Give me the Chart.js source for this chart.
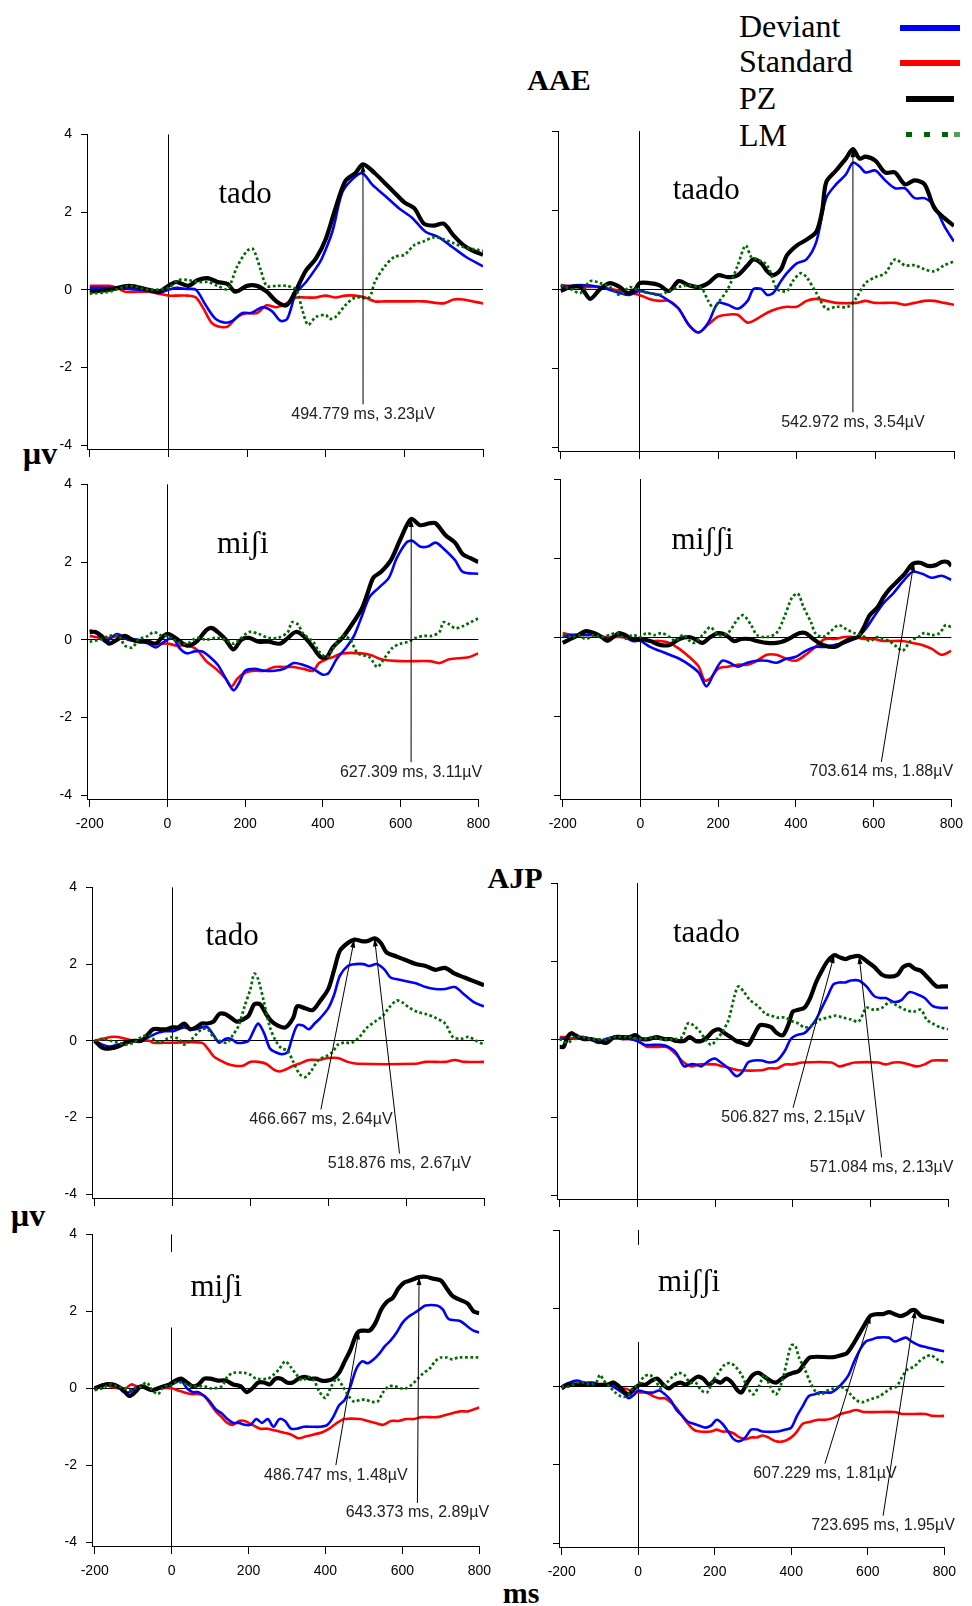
<!DOCTYPE html>
<html>
<head>
<meta charset="utf-8">
<script src="https://cdn.jsdelivr.net/npm/chart.js@4.4.0/dist/chart.umd.min.js"></script>
<style>
html, body { margin:0; padding:0; background:#fff; }
body { width:972px; height:1606px; position:relative; overflow:hidden; }
canvas { position:absolute; }
.txt { position:absolute; font-family:"Liberation Serif","Times New Roman",serif; color:#000; white-space:nowrap; line-height:1; }
.bold { font-weight:bold; }
.key { position:absolute; }
</style>
</head>
<body>
<div class="txt bold" style="left:559px; top:65px; font-size:30px; transform:translateX(-50%);">AAE</div>
<div class="txt bold" style="left:515px; top:863px; font-size:30px; transform:translateX(-50%);">AJP</div>
<div class="txt bold" style="left:40px; top:437px; font-size:32px; transform:translateX(-50%);">&micro;v</div>
<div class="txt bold" style="left:28px; top:1199px; font-size:32px; transform:translateX(-50%);">&micro;v</div>
<div class="txt bold" style="left:521px; top:1578px; font-size:30px; transform:translateX(-50%);">ms</div>

<div class="txt" style="left:739px; top:10px; font-size:32px;">Deviant</div>
<div class="txt" style="left:739px; top:45px; font-size:32px;">Standard</div>
<div class="txt" style="left:739px; top:82px; font-size:32px;">PZ</div>
<div class="txt" style="left:739px; top:119px; font-size:32px;">LM</div>
<div class="key" style="left:900px; top:25px; width:60px; height:6px; background:#0000ff;"></div>
<div class="key" style="left:900px; top:60px; width:60px; height:6px; background:#ff0000;"></div>
<div class="key" style="left:906px; top:96px; width:48px; height:6px; background:#000;"></div>
<div class="key" style="left:906px; top:132px; width:6px; height:5px; background:#006400;"></div>
<div class="key" style="left:924px; top:132px; width:6px; height:5px; background:#006400;"></div>
<div class="key" style="left:942px; top:132px; width:6px; height:5px; background:#006400;"></div>
<div class="key" style="left:954px; top:132px; width:6px; height:5px; background:#5a9a5a;"></div>

<script>
// ---- AAE / tado ----
const aaeTadoDev = [[-200,0.05],[-150,0.05],[-100,0.02],[-50,-0.03],[-25,-0.08],[0,0],[20,0.05],[45,0.02],[70,0],[95,-0.4],[120,-0.75],[145,-0.85],[163,-0.8],[188,-0.6],[210,-0.6],[239,-0.45],[263,-0.55],[285,-0.8],[302,-0.75],[324,-0.1],[350,0.2],[375,0.55],[390,0.8],[417,1.5],[442,2.5],[468,2.85],[493,3.0],[519,2.7],[553,2.4],[586,2.1],[620,1.85],[653,1.5],[688,1.35],[722,1.1],[756,0.85],[800,0.6]];
const aaeTadoStd = [[-200,0.1],[-150,0.1],[-130,0.05],[-110,-0.05],[-75,-0.05],[-50,-0.05],[-25,-0.1],[0,-0.15],[25,-0.15],[50,-0.15],[70,-0.2],[90,-0.5],[110,-0.85],[130,-0.95],[150,-0.95],[175,-0.7],[200,-0.6],[225,-0.6],[250,-0.4],[275,-0.45],[300,-0.35],[325,-0.2],[350,-0.2],[375,-0.2],[400,-0.15],[425,-0.2],[450,-0.15],[475,-0.15],[500,-0.2],[525,-0.3],[550,-0.3],[600,-0.3],[650,-0.3],[700,-0.35],[725,-0.25],[750,-0.25],[775,-0.3],[800,-0.35]];
const aaeTadoPz = [[-200,-0.05],[-150,0],[-100,0.1],[-50,0],[-25,-0.05],[0,0.1],[20,0.2],[50,0.1],[75,0.25],[100,0.3],[125,0.2],[150,0.15],[170,-0.05],[200,0.1],[225,0.1],[250,-0.05],[275,-0.3],[300,-0.4],[320,-0.1],[350,0.5],[375,0.8],[400,1.3],[425,2.1],[450,2.8],[475,3.0],[495,3.23],[525,3.0],[550,2.75],[575,2.5],[600,2.25],[625,2.1],[650,1.7],[675,1.65],[700,1.7],[725,1.4],[750,1.15],[775,1.0],[800,0.9]];
const aaeTadoLm = [[-200,-0.1],[-150,-0.05],[-100,0.1],[-50,0],[0,0.05],[25,0.25],[50,0.25],[75,0.2],[100,0.2],[125,0.1],[150,0.02],[175,0.6],[200,1.0],[215,1.05],[235,0.5],[250,0.1],[275,0.1],[300,0.1],[325,0],[340,-0.5],[355,-0.9],[375,-0.7],[400,-0.65],[410,-0.75],[425,-0.7],[450,-0.4],[475,-0.2],[510,-0.2],[525,0.2],[550,0.6],[575,0.85],[600,0.9],[625,1.15],[650,1.25],[675,1.35],[700,1.3],[725,1.2],[750,1.1],[775,1.05],[800,1.0]];
const aaeTadoPeaks = [[494.779,3.23,495,-2.95]];

// ---- AAE / taado ----
const aaeTaadoDev = [[-200,0.05],[-150,0.1],[-100,0.05],[-50,-0.1],[-25,-0.15],[0,-0.05],[25,-0.1],[50,-0.15],[75,-0.3],[100,-0.5],[125,-0.9],[150,-1.1],[175,-0.85],[200,-0.35],[225,-0.4],[250,-0.5],[275,-0.3],[290,0],[310,0],[325,-0.15],[340,-0.1],[360,0.2],[375,0.4],[400,0.65],[425,0.75],[450,1.2],[475,2.3],[500,2.65],[525,2.9],[543,3.2],[560,3.1],[575,2.95],[600,3.0],[625,2.75],[650,2.55],[675,2.55],[700,2.3],[725,2.3],[750,2.1],[775,1.6],[800,1.2]];
const aaeTaadoStd = [[-200,0.1],[-150,0.05],[-100,0.05],[-50,-0.05],[-25,-0.1],[0,-0.15],[25,-0.25],[50,-0.3],[75,-0.3],[100,-0.5],[125,-0.9],[150,-1.1],[175,-0.9],[200,-0.7],[225,-0.65],[250,-0.65],[275,-0.85],[300,-0.75],[325,-0.6],[350,-0.5],[375,-0.45],[400,-0.45],[425,-0.3],[450,-0.25],[475,-0.3],[500,-0.35],[550,-0.35],[575,-0.3],[600,-0.35],[650,-0.35],[675,-0.4],[700,-0.35],[725,-0.3],[750,-0.3],[775,-0.35],[800,-0.4]];
const aaeTaadoPz = [[-200,-0.05],[-175,0.05],[-150,0.05],[-125,-0.25],[-100,0],[-75,0.15],[-50,0.05],[-30,-0.1],[-10,0],[0,0.15],[25,0.15],[50,0.1],[75,-0.05],[100,0.2],[125,0.1],[150,0.05],[175,0.15],[200,0.35],[225,0.3],[250,0.35],[275,0.6],[290,0.75],[310,0.65],[325,0.45],[340,0.35],[360,0.5],[375,0.85],[400,1.1],[425,1.25],[450,1.45],[465,2.0],[475,2.7],[500,3.0],[525,3.3],[543,3.54],[560,3.3],[575,3.35],[600,3.25],[625,2.95],[650,2.95],[675,2.65],[700,2.75],[725,2.65],[750,2.05],[775,1.8],[800,1.6]];
const aaeTaadoLm = [[-200,0.1],[-175,0],[-150,-0.1],[-125,0.2],[-100,0.15],[-75,0.05],[-50,-0.15],[-25,0.05],[0,-0.05],[25,-0.1],[50,-0.15],[75,-0.05],[100,0.05],[125,0.1],[150,0.05],[160,0],[175,-0.3],[190,-0.5],[200,-0.35],[225,0],[250,0.6],[270,1.1],[285,0.8],[300,0.75],[325,0.6],[350,0],[375,-0.05],[390,0.2],[410,0.4],[425,0.3],[450,-0.1],[475,-0.5],[500,-0.45],[530,-0.45],[550,-0.25],[575,0.15],[600,0.3],[625,0.4],[650,0.75],[675,0.6],[700,0.6],[725,0.5],[750,0.45],[775,0.6],[800,0.7]];
const aaeTaadoPeaks = [[542.972,3.54,543,-3.12]];

// ---- AAE / miʃi ----
const aaeMishiDev = [[-200,0.25],[-180,0.15],[-160,-0.05],[-130,0.15],[-100,0],[-75,0],[-50,-0.1],[-30,-0.2],[-15,-0.1],[0,0],[15,0.05],[30,-0.2],[50,-0.35],[70,-0.3],[90,-0.3],[110,-0.45],[130,-0.65],[150,-1.0],[170,-1.3],[185,-1.1],[200,-0.8],[225,-0.75],[250,-0.8],[275,-0.8],[300,-0.75],[325,-0.6],[350,-0.65],[375,-0.75],[400,-0.9],[415,-0.85],[435,-0.5],[460,-0.2],[480,0.1],[500,0.6],[520,1.1],[545,1.35],[570,1.6],[590,2.1],[615,2.5],[630,2.55],[650,2.4],[670,2.4],[690,2.5],[710,2.35],[740,2.05],[760,1.75],[800,1.7]];
const aaeMishiStd = [[-200,0.1],[-175,0.05],[-150,0.05],[-125,0.1],[-100,0],[-75,-0.05],[-50,-0.05],[-25,-0.1],[0,-0.1],[25,-0.15],[50,-0.15],[75,-0.25],[100,-0.55],[125,-0.75],[150,-1.0],[165,-1.2],[180,-1.0],[200,-0.85],[225,-0.8],[250,-0.8],[275,-0.7],[300,-0.7],[325,-0.7],[350,-0.75],[375,-0.8],[390,-0.6],[410,-0.5],[425,-0.45],[450,-0.35],[500,-0.35],[525,-0.4],[550,-0.5],[600,-0.55],[675,-0.55],[700,-0.6],[725,-0.5],[775,-0.45],[800,-0.35]];
const aaeMishiPz = [[-200,0.2],[-185,0.2],[-170,0.1],[-150,-0.1],[-130,0],[-110,0.1],[-90,0],[-70,-0.05],[-50,-0.05],[-30,-0.1],[-15,0.05],[0,0.15],[20,0.05],[50,-0.15],[75,-0.05],[100,0.25],[115,0.3],[135,0.15],[150,0],[170,-0.25],[190,0],[210,0.05],[235,-0.05],[260,-0.05],[290,-0.1],[310,0.05],[330,0.2],[350,0.1],[375,-0.2],[395,-0.45],[410,-0.45],[425,-0.2],[450,0.05],[475,0.4],[500,0.8],[515,1.2],[530,1.6],[550,1.75],[575,2.05],[600,2.6],[627,3.11],[650,2.95],[675,3.0],[690,3.0],[715,2.7],[740,2.5],[760,2.2],[780,2.1],[800,2.0]];
const aaeMishiLm = [[-200,-0.05],[-175,0],[-150,0.1],[-125,0.1],[-110,-0.15],[-90,-0.2],[-75,0],[-50,0.1],[-35,0.2],[-15,0.1],[0,0.1],[25,-0.05],[50,-0.1],[75,0.05],[100,0],[125,0.05],[150,0],[170,-0.1],[185,0],[210,0.2],[235,0.15],[260,0.05],[285,0.05],[310,0.2],[320,0.45],[335,0.4],[350,0.15],[375,-0.05],[390,-0.3],[410,-0.45],[425,-0.25],[450,0.1],[470,0],[490,-0.35],[520,-0.45],[540,-0.7],[560,-0.45],[580,-0.2],[600,-0.1],[620,-0.05],[640,0.05],[660,0.1],[680,0.1],[700,0.2],[710,0.45],[725,0.4],[740,0.3],[760,0.35],[780,0.45],[800,0.55]];
const aaeMishiPeaks = [[627.309,3.11,627,-3.15]];

// ---- AAE / miʃʃi ----
const aaeMisshiDev = [[-200,0],[-180,0.05],[-150,0.05],[-120,0.05],[-100,0],[-80,-0.05],[-60,0.05],[-40,0],[-20,-0.1],[0,-0.1],[25,-0.25],[50,-0.35],[75,-0.45],[100,-0.55],[125,-0.7],[150,-0.9],[170,-1.25],[190,-0.9],[210,-0.6],[230,-0.65],[250,-0.75],[275,-0.65],[300,-0.6],[325,-0.6],[350,-0.65],[375,-0.55],[400,-0.5],[425,-0.35],[450,-0.25],[475,-0.25],[500,-0.2],[525,-0.15],[550,-0.05],[575,0.15],[600,0.5],[625,0.85],[650,1.1],[675,1.4],[700,1.65],[725,1.6],[750,1.5],[775,1.55],[800,1.45]];
const aaeMisshiStd = [[-200,0.1],[-175,0.05],[-150,0.05],[-120,0.05],[-100,0],[-75,0],[-50,0],[-25,-0.05],[0,-0.05],[25,-0.1],[50,-0.1],[75,-0.15],[100,-0.3],[125,-0.5],[150,-0.75],[165,-1.1],[180,-1.05],[200,-0.8],[225,-0.75],[250,-0.7],[275,-0.7],[300,-0.6],[325,-0.45],[350,-0.45],[375,-0.55],[400,-0.6],[425,-0.45],[450,-0.25],[475,-0.05],[500,-0.05],[525,0],[550,0],[575,-0.05],[600,-0.05],[625,-0.1],[675,-0.1],[700,-0.15],[725,-0.2],[750,-0.3],[775,-0.45],[800,-0.35]];
const aaeMisshiPz = [[-200,-0.15],[-180,-0.05],[-160,0.05],[-140,0.15],[-120,0.1],[-100,0],[-85,-0.1],[-70,0],[-55,0.1],[-40,0.05],[-20,-0.05],[0,-0.05],[25,-0.1],[50,-0.2],[75,-0.2],[100,-0.05],[125,0],[140,-0.05],[160,-0.15],[180,0],[200,0.1],[220,0.05],[240,-0.1],[260,-0.05],[280,-0.05],[300,-0.1],[325,-0.15],[350,-0.15],[370,-0.1],[390,0],[410,0.1],[425,0.1],[445,-0.05],[470,-0.2],[500,-0.25],[520,-0.15],[540,-0.05],[560,0],[575,0.25],[590,0.55],[610,0.75],[625,1.0],[640,1.2],[660,1.4],[680,1.6],[700,1.85],[720,1.88],[740,1.8],[760,1.82],[775,1.9],[790,1.9],[800,1.8]];
const aaeMisshiLm = [[-200,0.05],[-175,0],[-160,0.05],[-140,-0.05],[-120,0.05],[-100,0],[-80,0.05],[-60,0.1],[-40,-0.05],[-20,0.05],[0,0],[15,0.1],[35,0.05],[55,0.1],[75,0],[90,-0.1],[110,0.05],[135,-0.15],[160,0.05],[180,0.25],[200,0.05],[225,0.1],[250,0.45],[265,0.55],[285,0.3],[300,0.05],[325,0],[350,0.1],[370,0.5],[390,1.0],[405,1.1],[420,0.75],[440,0.35],[450,0.1],[470,0],[490,0.15],[510,0.3],[530,0.2],[550,0.1],[570,0.05],[590,-0.1],[610,0],[625,-0.05],[640,-0.1],[660,-0.25],[675,-0.35],[695,-0.1],[715,0],[730,0.1],[750,0.05],[770,0.1],[785,0.3],[800,0.25]];
const aaeMisshiPeaks = [[703.614,1.88,620,-3.16]];

// ---- AJP / tado ----
const ajpTadoDev = [[-200,0],[-180,-0.1],[-160,-0.15],[-140,-0.1],[-120,-0.05],[-100,0],[-80,0],[-60,0.1],[-40,0.2],[-20,0.25],[0,0.25],[15,0.3],[30,0.35],[45,0.3],[60,0.3],[75,0.35],[90,0.35],[105,0.15],[120,-0.05],[135,0.05],[150,0.05],[165,-0.05],[180,-0.05],[195,0],[210,0.3],[220,0.45],[235,0.2],[250,-0.2],[265,-0.3],[280,-0.35],[295,-0.3],[305,0],[320,0.4],[335,0.4],[350,0.3],[365,0.45],[380,0.6],[400,0.85],[415,1.2],[430,1.7],[450,1.95],[470,2.0],[490,2.0],[505,1.95],[525,2.0],[545,1.85],[560,1.65],[580,1.6],[600,1.55],[625,1.5],[650,1.4],[675,1.35],[700,1.35],[725,1.4],[750,1.2],[775,1.0],[800,0.9]];
const ajpTadoStd = [[-200,0],[-180,0.05],[-160,0.1],[-140,0.1],[-120,0.05],[-100,0],[-60,0],[-50,-0.05],[0,-0.05],[75,-0.05],[90,-0.2],[105,-0.4],[120,-0.5],[140,-0.6],[160,-0.65],[180,-0.65],[200,-0.55],[220,-0.55],[240,-0.6],[260,-0.75],[275,-0.8],[290,-0.75],[310,-0.65],[325,-0.6],[350,-0.5],[375,-0.5],[400,-0.45],[425,-0.45],[450,-0.55],[475,-0.6],[625,-0.6],[650,-0.55],[700,-0.55],[725,-0.5],[750,-0.55],[800,-0.55]];
const ajpTadoPz = [[-200,0],[-185,-0.15],[-175,-0.2],[-160,-0.2],[-140,-0.15],[-120,-0.05],[-100,0],[-80,0],[-65,0.15],[-50,0.3],[-30,0.3],[-15,0.3],[0,0.35],[15,0.35],[30,0.45],[45,0.3],[60,0.35],[75,0.45],[90,0.45],[105,0.5],[120,0.7],[135,0.7],[150,0.6],[165,0.5],[180,0.55],[195,0.65],[210,0.95],[225,0.95],[240,0.7],[255,0.5],[270,0.4],[290,0.35],[310,0.6],[320,0.9],[340,0.85],[360,0.8],[380,1.05],[400,1.35],[415,1.85],[430,2.35],[450,2.55],[467,2.64],[485,2.6],[500,2.6],[519,2.67],[535,2.55],[550,2.3],[575,2.2],[600,2.1],[625,2.0],[650,1.95],[675,1.85],[700,1.9],[725,1.75],[750,1.65],[775,1.55],[800,1.45]];
const ajpTadoLm = [[-200,0],[-180,0.05],[-160,0],[-140,-0.05],[-120,-0.1],[-100,-0.05],[-80,0.1],[-60,0.15],[-45,0],[-30,-0.05],[-15,0.05],[0,0.1],[15,0.05],[30,-0.1],[50,0.05],[75,0.3],[90,0.3],[105,0.1],[120,0],[140,-0.05],[155,0.15],[170,0.4],[185,0.9],[200,1.35],[210,1.75],[220,1.6],[235,1.0],[250,0.35],[265,0],[280,-0.2],[295,-0.25],[310,-0.55],[325,-0.85],[340,-0.95],[355,-0.8],[375,-0.5],[395,-0.4],[410,-0.3],[425,-0.1],[440,-0.05],[460,-0.05],[480,0.1],[500,0.35],[520,0.5],[540,0.65],[555,0.85],[575,1.05],[590,1.0],[610,0.85],[630,0.75],[650,0.7],[675,0.6],[700,0.45],[720,0.1],[740,0.05],[760,0.1],[780,0],[800,-0.1]];
const ajpTadoPeaks = [[466.667,2.64,381,-1.79],[518.876,2.67,583,-2.94]];

// ---- AJP / taado ----
const ajpTaadoDev = [[-200,0],[-180,0.05],[-170,0.15],[-160,0.05],[-140,0.05],[-120,0],[-100,-0.1],[-80,0],[-60,0.05],[-40,0],[-20,0],[0,-0.05],[20,-0.15],[40,-0.15],[60,-0.15],[80,-0.2],[100,-0.35],[120,-0.7],[135,-0.65],[150,-0.65],[165,-0.7],[185,-0.55],[200,-0.5],[215,-0.6],[235,-0.75],[255,-0.95],[270,-0.85],[285,-0.6],[300,-0.55],[320,-0.55],[340,-0.6],[360,-0.55],[380,-0.3],[395,0],[410,0.1],[430,0.15],[445,0.3],[460,0.5],[475,0.8],[490,1.1],[505,1.4],[520,1.45],[535,1.45],[550,1.5],[570,1.5],[590,1.35],[610,1.1],[625,1.05],[640,1.05],[660,0.95],[680,1.0],[700,1.2],[720,1.15],[740,1.05],[760,0.85],[780,0.8],[800,0.8]];
const ajpTaadoStd = [[-200,0.05],[-180,0.05],[-160,0],[-140,0.05],[-120,0],[-100,-0.05],[-80,0],[-20,0],[0,-0.05],[10,-0.1],[25,-0.2],[75,-0.2],[90,-0.3],[105,-0.45],[120,-0.6],[140,-0.7],[160,-0.65],[200,-0.65],[220,-0.7],[240,-0.75],[260,-0.8],[320,-0.8],[340,-0.75],[360,-0.75],[380,-0.65],[400,-0.65],[425,-0.6],[500,-0.6],[520,-0.7],[540,-0.65],[560,-0.6],[620,-0.6],[640,-0.65],[660,-0.6],[680,-0.6],[700,-0.65],[720,-0.7],[740,-0.65],[760,-0.55],[800,-0.55]];
const ajpTaadoPz = [[-200,-0.2],[-190,-0.2],[-180,0.05],[-170,0.15],[-160,0.1],[-140,0],[-120,0],[-100,-0.05],[-80,-0.1],[-60,0.05],[-40,0.05],[-20,0.05],[-5,0.1],[10,0],[30,0],[50,0.05],[70,0],[85,0],[100,-0.05],[120,-0.05],[135,0.05],[150,-0.05],[165,-0.05],[180,0.05],[195,0.2],[210,0.25],[225,0.15],[240,0.05],[255,-0.05],[270,-0.1],[285,-0.15],[300,0.1],[315,0.35],[330,0.35],[345,0.3],[360,0.15],[375,0.1],[390,0.4],[400,0.7],[415,0.75],[430,0.8],[445,1.05],[460,1.45],[475,1.75],[490,2.0],[507,2.15],[520,2.1],[535,2.05],[550,2.1],[571,2.13],[590,2.0],[610,1.85],[630,1.65],[650,1.6],[670,1.65],[685,1.85],[700,1.9],[715,1.8],[730,1.75],[750,1.55],[770,1.35],[785,1.35],[800,1.35]];
const ajpTaadoLm = [[-200,0],[-180,-0.1],[-160,0.05],[-140,0.05],[-120,0],[-80,0],[-60,0.05],[-20,0.05],[0,0],[20,0],[40,0.05],[60,0],[100,0],[115,0.05],[130,0.4],[145,0.35],[160,0.2],[175,0],[190,-0.15],[205,0],[220,0.2],[235,0.5],[250,1.1],[260,1.35],[275,1.2],[290,1.0],[310,0.85],[330,0.65],[345,0.6],[360,0.55],[380,0.55],[400,0.45],[415,0.4],[430,0.3],[450,0.35],[470,0.5],[490,0.55],[510,0.6],[530,0.55],[550,0.5],[570,0.45],[590,0.8],[610,0.75],[630,0.8],[650,0.95],[670,0.85],[690,0.75],[710,0.7],[730,0.75],[745,0.5],[760,0.4],[780,0.3],[800,0.25]];
const ajpTaadoPeaks = [[506.827,2.15,401,-1.76],[571.084,2.13,629,-3.03]];

// ---- AJP / miʃi ----
const ajpMishiDev = [[-200,-0.05],[-180,0.1],[-160,0.1],[-140,0.05],[-125,-0.1],[-110,-0.1],[-95,0],[-80,0.05],[-65,0],[-50,-0.05],[-30,0],[-10,0.05],[10,0.15],[25,0.2],[40,0],[55,-0.1],[70,-0.1],[85,-0.2],[100,-0.35],[115,-0.55],[130,-0.65],[145,-0.8],[160,-0.9],[175,-0.9],[190,-0.95],[205,-0.95],[220,-0.8],[235,-0.9],[250,-0.8],[265,-1.0],[280,-0.8],[295,-0.85],[310,-1.05],[325,-1.05],[345,-1.0],[365,-1.0],[385,-1.0],[405,-0.95],[420,-0.75],[435,-0.45],[450,-0.3],[465,0.05],[480,0.5],[495,0.7],[510,0.65],[525,0.75],[540,0.9],[555,1.1],[570,1.25],[585,1.45],[600,1.7],[615,1.85],[630,1.95],[645,2.05],[660,2.15],[690,2.15],[705,2.05],[720,1.8],[750,1.75],[770,1.6],[785,1.5],[800,1.45]];
const ajpMishiStd = [[-200,0],[-180,0.1],[-160,0.05],[-140,0],[-120,0],[-105,0.1],[-90,0.05],[-70,0.05],[-50,-0.05],[-30,0],[0,0],[15,-0.05],[30,-0.1],[50,-0.15],[70,-0.15],[85,-0.2],[100,-0.4],[115,-0.6],[130,-0.75],[145,-0.9],[160,-0.95],[175,-0.85],[190,-0.85],[210,-0.95],[230,-1.05],[250,-1.05],[270,-1.1],[290,-1.15],[310,-1.2],[330,-1.3],[350,-1.25],[370,-1.2],[390,-1.15],[410,-1.05],[430,-0.9],[450,-0.8],[490,-0.8],[510,-0.85],[530,-0.9],[550,-0.95],[570,-0.85],[590,-0.85],[610,-0.8],[630,-0.8],[650,-0.75],[690,-0.75],[710,-0.7],[730,-0.65],[750,-0.6],[770,-0.6],[785,-0.55],[800,-0.5]];
const ajpMishiPz = [[-200,0],[-185,0.05],[-170,0.1],[-155,0.1],[-140,0.05],[-125,-0.05],[-110,-0.2],[-95,-0.1],[-80,0.05],[-65,0],[-50,-0.05],[-35,0],[-20,0.05],[-5,0.1],[10,0.2],[25,0.25],[40,0.15],[55,0.05],[70,0.1],[85,0.25],[100,0.25],[120,0.2],[140,0.2],[160,0.1],[180,0.05],[195,-0.1],[210,0],[225,0.15],[240,0.15],[255,0.1],[270,0.25],[285,0.25],[300,0.15],[315,0.15],[330,0.25],[345,0.3],[360,0.25],[375,0.25],[390,0.2],[405,0.2],[420,0.25],[435,0.4],[450,0.7],[465,1.0],[478,1.35],[487,1.48],[500,1.5],[515,1.5],[530,1.7],[545,2.05],[560,2.25],[575,2.35],[590,2.6],[605,2.75],[620,2.8],[643,2.89],[660,2.9],[680,2.85],[700,2.8],[715,2.6],[730,2.4],[750,2.3],[770,2.2],[785,2.0],[800,1.95]];
const ajpMishiLm = [[-200,-0.05],[-180,0],[-160,0.1],[-140,0.05],[-125,0],[-110,-0.05],[-95,0],[-80,0.05],[-65,0.15],[-50,-0.05],[-35,-0.15],[-20,0.05],[-5,0.05],[10,0.15],[25,0.15],[40,0.1],[55,0.05],[85,0.05],[100,0],[130,0.05],[145,0.3],[160,0.4],[190,0.4],[205,0.35],[220,0.25],[250,0.25],[265,0.35],[280,0.5],[295,0.7],[310,0.55],[325,0.35],[340,0.2],[355,0.3],[370,0.2],[385,-0.1],[400,-0.25],[415,0.05],[430,0.25],[445,0.05],[460,-0.2],[475,-0.35],[490,-0.3],[505,-0.3],[520,-0.35],[535,-0.35],[550,-0.1],[565,0.05],[580,0.05],[595,0],[610,0],[625,0.1],[640,0.25],[655,0.4],[670,0.5],[685,0.7],[700,0.8],[715,0.8],[730,0.75],[745,0.8],[800,0.8]];
const ajpMishiPeaks = [[486.747,1.48,427,-2.0],[643.373,2.89,639,-2.98]];

// ---- AJP / miʃʃi ----
const ajpMisshiDev = [[-200,0],[-180,0.1],[-160,0.15],[-140,0.1],[-120,0.1],[-100,0.05],[-80,0.05],[-65,0],[-50,-0.1],[-35,-0.2],[-25,-0.3],[-10,-0.2],[0,-0.1],[20,-0.15],[40,-0.15],[55,-0.1],[70,-0.2],[85,-0.35],[100,-0.6],[115,-0.75],[130,-0.9],[145,-0.95],[160,-1.0],[175,-1.05],[190,-1.0],[205,-0.85],[220,-0.95],[235,-1.15],[250,-1.35],[265,-1.4],[280,-1.3],[295,-1.1],[310,-1.1],[325,-1.15],[365,-1.15],[385,-1.1],[400,-1.05],[415,-0.75],[430,-0.5],[445,-0.25],[460,-0.2],[475,-0.15],[505,-0.15],[520,-0.05],[535,0.1],[550,0.3],[565,0.65],[580,0.95],[595,1.15],[610,1.2],[625,1.25],[655,1.25],[670,1.15],[685,1.2],[700,1.25],[715,1.15],[735,1.05],[755,1.0],[775,0.95],[800,0.9]];
const ajpMisshiStd = [[-200,0],[-180,0.05],[-80,0.05],[-65,0],[-50,-0.05],[-35,-0.05],[-20,-0.1],[0,-0.15],[20,-0.15],[40,-0.25],[55,-0.3],[70,-0.3],[85,-0.4],[100,-0.55],[115,-0.75],[130,-0.95],[145,-1.1],[160,-1.15],[190,-1.15],[205,-1.1],[220,-1.15],[235,-1.15],[250,-1.2],[265,-1.3],[280,-1.35],[295,-1.3],[310,-1.3],[325,-1.25],[340,-1.3],[360,-1.4],[380,-1.4],[400,-1.3],[415,-1.15],[430,-0.95],[450,-0.9],[470,-0.85],[490,-0.85],[510,-0.8],[530,-0.7],[550,-0.65],[570,-0.6],[590,-0.65],[670,-0.65],[690,-0.7],[750,-0.7],[770,-0.75],[800,-0.75]];
const ajpMisshiPz = [[-200,-0.05],[-185,0.05],[-170,0.05],[-80,0.05],[-65,0.1],[-50,0],[-35,-0.15],[-25,-0.2],[-10,-0.05],[5,0.05],[20,0.05],[35,0.15],[50,0.2],[65,0.05],[80,-0.05],[95,0.05],[110,0.1],[125,0.05],[140,0.15],[155,0.25],[170,0.2],[185,0.05],[200,0.15],[215,0.1],[230,0.2],[245,0.1],[260,-0.1],[270,-0.15],[285,0.1],[300,0.3],[315,0.35],[330,0.25],[345,0.15],[360,0.1],[375,0.2],[390,0.3],[405,0.35],[420,0.4],[435,0.6],[450,0.75],[510,0.75],[530,0.8],[545,0.85],[560,1.05],[575,1.3],[590,1.55],[607,1.81],[625,1.85],[640,1.85],[655,1.9],[670,1.85],[685,1.8],[700,1.85],[715,1.95],[724,1.95],[740,1.8],[760,1.75],[780,1.7],[800,1.65]];
const ajpMisshiLm = [[-200,0],[-180,0],[-160,0.1],[-140,0.1],[-125,0.05],[-110,0.1],[-100,0.3],[-90,0.15],[-75,0],[-60,-0.15],[-45,-0.25],[-30,-0.25],[-15,-0.05],[0,0.05],[15,0.25],[30,0.3],[45,0.15],[60,-0.05],[75,0.1],[90,0.25],[105,0.35],[120,0.3],[135,0.1],[150,0.1],[165,-0.1],[180,-0.15],[195,0.15],[210,0.35],[225,0.55],[240,0.6],[255,0.5],[270,0.3],[285,0],[300,-0.2],[315,0],[330,0.3],[345,0],[360,-0.2],[375,0.1],[390,0.7],[400,1.05],[410,1.05],[420,0.75],[435,0.45],[450,0.1],[465,-0.15],[480,-0.2],[495,-0.1],[510,-0.05],[525,0],[540,-0.05],[555,-0.2],[570,-0.35],[585,-0.4],[600,-0.35],[615,-0.3],[630,-0.25],[645,-0.15],[660,-0.05],[675,0],[690,0.25],[705,0.45],[720,0.5],[735,0.65],[750,0.75],[765,0.8],[780,0.7],[800,0.6]];
const ajpMisshiPeaks = [[607.229,1.81,488,-1.97],[723.695,1.95,640,-3.3]];

const xTicks = [-200, 0, 200, 400, 600, 800];
const yTicks = [-4, -2, 0, 2, 4];

const seriesStyle = [
    { label: 'Deviant', color: '#0000ff', width: 2.6, order: 2 },
    { label: 'Standard', color: '#ff0000', width: 2.6, order: 3 },
    { label: 'PZ', color: '#000000', width: 4.2, order: 1 },
    { label: 'LM', color: '#006b00', width: 2.7, order: 0, dash: [2.7, 2.5] }
];

// pixel frames: x of -200, x of 800, y of +4, y of -4
const panels = [
    { word: 'tado', wordAt: [195, 2.23], frame: [90, 483.3, 129.3, 445.3], yLab: true, xLab: false, series: [aaeTadoDev, aaeTadoStd, aaeTadoPz, aaeTadoLm], peaks: aaeTadoPeaks },
    { word: 'taado', wordAt: [170, 2.27], frame: [560.7, 954, 130.7, 447.3], yLab: false, xLab: false, series: [aaeTaadoDev, aaeTaadoStd, aaeTaadoPz, aaeTaadoLm], peaks: aaeTaadoPeaks },
    { word: 'mi\u0283i', wordAt: [194, 2.23], frame: [90, 483.3, 479.3, 795.3], yLab: true, xLab: true, series: [aaeMishiDev, aaeMishiStd, aaeMishiPz, aaeMishiLm], peaks: aaeMishiPeaks },
    { word: 'mi\u0283\u0283i', wordAt: [160, 2.22], frame: [562.3, 955.7, 479.3, 795.3], yLab: false, xLab: true, series: [aaeMisshiDev, aaeMisshiStd, aaeMisshiPz, aaeMisshiLm], peaks: aaeMisshiPeaks },
    { word: 'tado', wordAt: [153, 2.49], frame: [95, 484, 882.3, 1194.3], yLab: true, xLab: false, series: [ajpTadoDev, ajpTadoStd, ajpTadoPz, ajpTadoLm], peaks: ajpTadoPeaks },
    { word: 'taado', wordAt: [178, 2.49], frame: [559.3, 948.3, 882.5, 1195], yLab: false, xLab: false, series: [ajpTaadoDev, ajpTaadoStd, ajpTaadoPz, ajpTaadoLm], peaks: ajpTaadoPeaks },
    { word: 'mi\u0283i', wordAt: [116, 2.39], frame: [95, 484, 1229, 1541.7], yLab: true, xLab: true, series: [ajpMishiDev, ajpMishiStd, ajpMishiPz, ajpMishiLm], peaks: ajpMishiPeaks, cover: [-4, 188, 3.54, 1.58] },
    { word: 'mi\u0283\u0283i', wordAt: [133, 2.43], frame: [562, 949.3, 1230, 1542.7], yLab: false, xLab: true, series: [ajpMisshiDev, ajpMisshiStd, ajpMisshiPz, ajpMisshiLm], peaks: ajpMisshiPeaks, cover: [-4, 276, 3.62, 1.14] }
];

const AXW = 40, AXH = 38, PT = 12, PR = 16;
const X_MIN = -207, Y_MIN = -4.1;

Chart.defaults.font.family = '"Liberation Sans", Arial, sans-serif';
Chart.defaults.font.size = 14;
Chart.defaults.color = '#000';

function makeDecor(p) {
    return {
        id: 'panelDecor',
        beforeDatasetsDraw(chart) {
            const ctx = chart.ctx, x = chart.scales.x, y = chart.scales.y;
            ctx.save();
            if (p.cover) {
                const l = x.getPixelForValue(p.cover[0]), r = x.getPixelForValue(p.cover[1]);
                const t = y.getPixelForValue(p.cover[2]), b = y.getPixelForValue(p.cover[3]);
                ctx.fillStyle = '#fff';
                ctx.fillRect(l, t, r - l, b - t);
            }
            ctx.fillStyle = '#000';
            ctx.font = '31px "Liberation Serif", "Times New Roman", serif';
            ctx.textAlign = 'center';
            ctx.textBaseline = 'alphabetic';
            ctx.fillText(p.word, x.getPixelForValue(p.wordAt[0]), y.getPixelForValue(p.wordAt[1]));
            ctx.restore();
        },
        afterDatasetsDraw(chart) {
            const ctx = chart.ctx, x = chart.scales.x, y = chart.scales.y;
            ctx.save();
            ctx.lineWidth = 1;
            ctx.strokeStyle = '#000';
            ctx.font = '16px "Liberation Sans", Arial, sans-serif';
            ctx.textAlign = 'center';
            ctx.textBaseline = 'middle';
            p.peaks.forEach(function(pk) {
                const px = x.getPixelForValue(pk[0]), py = y.getPixelForValue(pk[1]);
                const ex = x.getPixelForValue(pk[2]), ey = y.getPixelForValue(pk[3]);
                ctx.beginPath();
                ctx.moveTo(ex, ey);
                ctx.lineTo(px, py);
                ctx.stroke();
                const a = Math.atan2(py - ey, px - ex);
                ctx.fillStyle = '#000';
                ctx.beginPath();
                ctx.moveTo(px, py);
                ctx.lineTo(px - 8 * Math.cos(a) + 2.5 * Math.sin(a), py - 8 * Math.sin(a) - 2.5 * Math.cos(a));
                ctx.lineTo(px - 8 * Math.cos(a) - 2.5 * Math.sin(a), py - 8 * Math.sin(a) + 2.5 * Math.cos(a));
                ctx.closePath();
                ctx.fill();
                ctx.fillStyle = '#222';
                ctx.fillText(pk[0].toFixed(3) + ' ms, ' + pk[1].toFixed(2) + '\u00b5V', ex, ey + 10);
            });
            ctx.restore();
        }
    };
}

function zeroOnly(ctx) {
    return ctx.tick && ctx.tick.value === 0 ? '#000' : 'rgba(0,0,0,0)';
}

panels.forEach(function(p, i) {
    const f = p.frame;
    const msPx = (f[1] - f[0]) / 1000, uvPx = (f[3] - f[2]) / 8;
    const left = Math.round(f[0] + (X_MIN + 200) * msPx), right = Math.round(f[1]);
    const top = Math.round(f[2]), bottom = Math.round(f[3] + (-4 - Y_MIN) * uvPx);

    const canvas = document.createElement('canvas');
    canvas.width = right - left + AXW + PR;
    canvas.height = bottom - top + PT + AXH;
    canvas.style.left = (left - AXW) + 'px';
    canvas.style.top = (top - PT) + 'px';
    canvas.id = 'panel' + (i + 1);
    document.body.appendChild(canvas);

    new Chart(canvas, {
        type: 'line',
        data: {
            datasets: p.series.map(function(s, k) {
                const st = seriesStyle[k];
                return {
                    label: st.label,
                    data: s.map(function(d) { return { x: d[0], y: d[1] }; }),
                    borderColor: st.color,
                    borderWidth: st.width,
                    borderDash: st.dash || [],
                    order: st.order,
                    pointRadius: 0,
                    tension: 0.3,
                    fill: false
                };
            })
        },
        options: {
            responsive: false,
            animation: false,
            layout: { padding: { top: PT, right: PR, left: 0, bottom: 0 } },
            plugins: { legend: { display: false }, tooltip: { enabled: false } },
            scales: {
                x: {
                    type: 'linear',
                    min: X_MIN,
                    max: 800,
                    afterFit: function(scale) { scale.height = AXH; },
                    afterBuildTicks: function(scale) { scale.ticks = xTicks.map(function(v) { return { value: v }; }); },
                    ticks: { display: p.xLab, autoSkip: false, maxRotation: 0, padding: 9, font: { size: 14 } },
                    grid: { color: zeroOnly, tickColor: '#000', tickLength: 8, lineWidth: 1 },
                    border: { display: true, color: '#000', width: 1 }
                },
                y: {
                    type: 'linear',
                    min: Y_MIN,
                    max: 4,
                    afterFit: function(scale) { scale.width = AXW; },
                    afterBuildTicks: function(scale) { scale.ticks = yTicks.map(function(v) { return { value: v }; }); },
                    ticks: { display: p.yLab, padding: 9, font: { size: 14 } },
                    grid: { color: zeroOnly, tickColor: '#000', tickLength: 6, lineWidth: 1 },
                    border: { display: true, color: '#000', width: 1 }
                }
            }
        },
        plugins: [makeDecor(p)]
    });
});
</script>
</body>
</html>
